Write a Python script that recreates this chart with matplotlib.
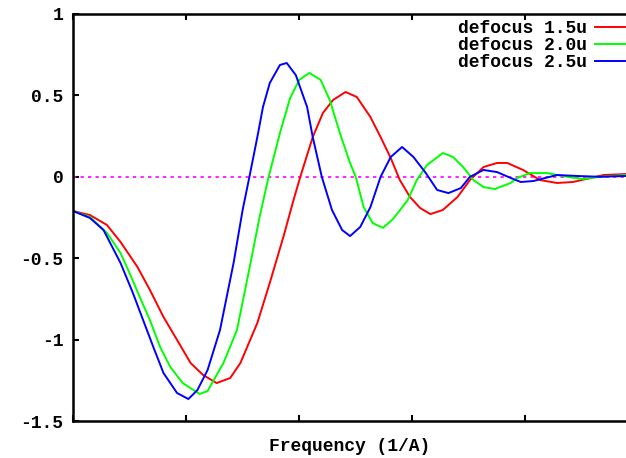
import matplotlib
matplotlib.use('Agg')
import matplotlib.pyplot as plt

# (x in 1/A, arbitrary scale)
x_15 = [0.000, 0.015, 0.030, 0.042, 0.057, 0.068, 0.080, 0.092, 0.104, 0.115,
        0.127, 0.139, 0.148, 0.163, 0.174, 0.186, 0.195, 0.201, 0.212, 0.221,
        0.230, 0.241, 0.251, 0.263, 0.272, 0.281, 0.289, 0.298, 0.307, 0.316,
        0.327, 0.340, 0.351, 0.363, 0.375, 0.384, 0.398, 0.413, 0.428, 0.442,
        0.458, 0.469, 0.489]
y_15 = [-0.210, -0.235, -0.296, -0.400, -0.554, -0.695, -0.861, -1.002, -1.144, -1.217,
        -1.267, -1.236, -1.144, -0.898, -0.652, -0.370, -0.143, 0.000, 0.244, 0.392,
        0.472, 0.521, 0.490, 0.367, 0.244, 0.115, -0.020, -0.124, -0.192, -0.229,
        -0.204, -0.124, -0.020, 0.060, 0.085, 0.085, 0.042, -0.020, -0.038, -0.032,
        -0.007, 0.011, 0.017]

x_20 = [0.000, 0.015, 0.030, 0.042, 0.050, 0.059, 0.068, 0.077, 0.086, 0.097,
        0.112, 0.119, 0.133, 0.145, 0.157, 0.165, 0.173, 0.183, 0.192, 0.200,
        0.209, 0.219, 0.227, 0.236, 0.245, 0.250, 0.257, 0.265, 0.274, 0.283,
        0.296, 0.304, 0.313, 0.327, 0.336, 0.345, 0.354, 0.363, 0.373, 0.387,
        0.393, 0.404, 0.419, 0.437, 0.451, 0.466, 0.489]
y_20 = [-0.210, -0.247, -0.345, -0.468, -0.591, -0.738, -0.880, -1.045, -1.168, -1.267,
        -1.334, -1.316, -1.144, -0.941, -0.529, -0.247, 0.000, 0.269, 0.484, 0.595,
        0.638, 0.595, 0.472, 0.269, 0.085, 0.000, -0.186, -0.284, -0.314, -0.259,
        -0.143, -0.020, 0.072, 0.146, 0.122, 0.060, -0.020, -0.063, -0.075, -0.038,
        -0.007, 0.023, 0.023, 0.000, -0.014, 0.000, 0.011]

x_25 = [0.000, 0.015, 0.027, 0.042, 0.053, 0.062, 0.071, 0.080, 0.092, 0.102,
        0.110, 0.119, 0.130, 0.142, 0.150, 0.156, 0.163, 0.168, 0.174, 0.183,
        0.189, 0.197, 0.207, 0.212, 0.220, 0.229, 0.238, 0.245, 0.254, 0.263,
        0.272, 0.281, 0.291, 0.301, 0.312, 0.322, 0.332, 0.343, 0.351, 0.363,
        0.375, 0.387, 0.396, 0.407, 0.428, 0.446, 0.466, 0.489]
y_25 = [-0.210, -0.253, -0.327, -0.529, -0.714, -0.880, -1.045, -1.205, -1.328, -1.365,
        -1.310, -1.187, -0.941, -0.529, -0.204, 0.000, 0.244, 0.429, 0.576, 0.687,
        0.699, 0.625, 0.429, 0.244, 0.000, -0.204, -0.327, -0.364, -0.308, -0.186,
        0.000, 0.122, 0.183, 0.122, 0.023, -0.081, -0.100, -0.069, 0.000, 0.042,
        0.029, -0.007, -0.032, -0.026, 0.011, 0.005, 0.000, 0.005]

labels = ['defocus 1.5u', 'defocus 2.0u', 'defocus 2.5u']
colors = ['#ff0000', '#00ff00', '#0000ff']
x_ticks = [0.0, 0.1, 0.2, 0.3, 0.4]
y_ticks = [-1.5, -1.0, -0.5, 0.0, 0.5, 1.0]
y_ticklabels = ['-1.5', '-1', '-0.5', '0', '0.5', '1']

font = {'family': 'Liberation Mono', 'weight': 'bold', 'size': 13}

fig = plt.figure(figsize=(6.26, 4.58), dpi=100)
ax = fig.add_axes([73 / 626, 37 / 458, 553 / 626, 407 / 458])

ax.axhline(0, color='#ff00ff', lw=1.2, linestyle=(0, (2, 2.5)))
for xs, ys, lab, c in zip([x_15, x_20, x_25], [y_15, y_20, y_25], labels, colors):
    ax.plot(xs, ys, color=c, lw=1.4, label=lab)

ax.set_xlim(0, 0.489)
ax.set_ylim(-1.5, 1)
ax.set_xticks(x_ticks)
ax.set_xticklabels([])
ax.set_yticks(y_ticks)
ax.set_yticklabels(y_ticklabels, fontdict=font)
ax.tick_params(direction='in', length=4, width=1.5, top=True, pad=7)
ax.spines['right'].set_visible(False)
for s in ['left', 'bottom', 'top']:
    ax.spines[s].set_linewidth(1.8)

ax.set_xlabel('Frequency (1/A)', fontdict=font, labelpad=5)

leg = ax.legend(loc='upper right', bbox_to_anchor=(0.998, 0.985), frameon=False,
                markerfirst=False, handlelength=1.65, handletextpad=0.45,
                labelspacing=0.0, borderaxespad=0.0, borderpad=0.0,
                prop={'family': 'Liberation Mono', 'weight': 'bold', 'size': 13})

fig.savefig('out.png', dpi=100)
